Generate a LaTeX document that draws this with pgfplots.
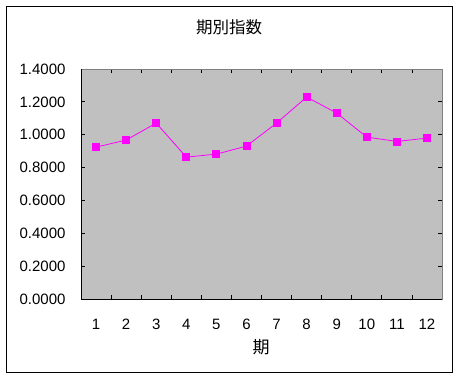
\documentclass[border=0pt]{standalone}
\usepackage{fontspec}
\setmainfont{Liberation Sans}
\newfontfamily\cjk{Noto Sans CJK JP}
\usepackage{pgfplots}
\pgfplotsset{compat=1.18}
\definecolor{plotgrey}{HTML}{C0C0C0}
\definecolor{axgrey}{HTML}{808080}
\definecolor{mag}{HTML}{FF00FF}
\begin{document}
\begin{tikzpicture}
\path (-81bp,-79bp) rectangle (378bp,299bp);
\draw[black, line width=0.8bp] (-74.5bp,-73.5bp) rectangle (371.5bp,293bp);
\begin{axis}[
  scale only axis, width=361bp, height=230bp,
  at={(0bp,0bp)}, anchor=south west,
  xmin=0.5, xmax=12.5, ymin=0, ymax=1.4,
  axis background/.style={fill=plotgrey},
  axis line style={draw=axgrey, line width=0.8bp},
  xtick={1,...,12},
  major x tick style={draw=none},
  minor xtick={1.5,2.5,3.5,4.5,5.5,6.5,7.5,8.5,9.5,10.5,11.5},
  ytick={0,0.2,0.4,0.6,0.8,1.0,1.2,1.4},
  tick align=inside,
  major tick length=4bp, minor tick length=4bp,
  tick style={black, line width=0.8bp},
  yticklabel style={xshift=-12bp, /pgf/number format/fixed, /pgf/number format/fixed zerofill, /pgf/number format/precision=4},
  xticklabel style={yshift=-17bp},
  /pgf/number format/assume math mode=true,
  tick label style={font=\fontsize{15bp}{17bp}\selectfont},
  clip=false,
]
\addplot[mag, line width=0.8bp, mark=square*, mark size=3.5bp, mark options={fill=mag, draw=mag}] coordinates {
(1,0.9245) (2,0.9672) (3,1.0708) (4,0.8636) (5,0.8819) (6,0.9306)
(7,1.0708) (8,1.2293) (9,1.1318) (10,0.9855) (11,0.9590) (12,0.9794)
};
\end{axis}
\draw[black, line width=0.8bp] (0bp,230bp) -- (0bp,0bp) -- (361bp,0bp);
\node[font=\cjk\fontsize{16.5bp}{18bp}\selectfont] at (148bp,272bp) {期別指数};
\node[font=\cjk\fontsize{17bp}{19bp}\selectfont] at (180bp,-48bp) {期};
\end{tikzpicture}
\end{document}
